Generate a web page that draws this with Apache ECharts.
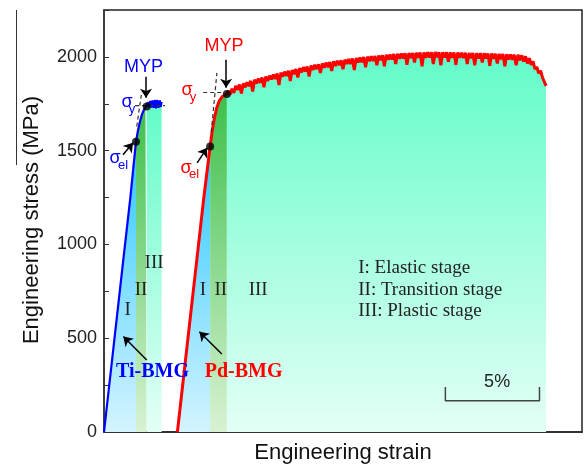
<!DOCTYPE html>
<html>
<head>
<meta charset="utf-8">
<script src="https://cdn.jsdelivr.net/npm/echarts@6/dist/echarts.min.js"></script>
<style>html,body{margin:0;padding:0;background:#fff}#chart{width:584px;height:467px}</style>
</head>
<body>
<div id="chart"></div>
<script>
// strain in %, stress in MPa
const tiCurve = [[0,0],[0.5,447],[1.0,895],[1.40,1250],[1.70,1548],[1.80,1605],[1.90,1650],[2.00,1688],[2.10,1714],[2.20,1728],[2.27,1735],
  [2.33,1758],[2.38,1732],[2.45,1765],[2.50,1730],[2.58,1768],[2.63,1728],[2.71,1770],[2.76,1726],[2.84,1770],[2.89,1728],[2.97,1768],[3.01,1732],[3.06,1760]];
const pdElastic = [[3.90,0],[4.60,623],[5.30,1246],[5.64,1522],[5.75,1605],[5.86,1670],[5.98,1725],[6.12,1765],[6.30,1790],[6.53,1802]];
const pdPlastic = [
  [6.6,1818],[6.7,1800],[6.8,1830],[6.9,1808],[7.0,1845],[7.1,1825],[7.2,1852],[7.3,1805],[7.4,1858],[7.5,1838],
  [7.6,1864],[7.7,1845],[7.8,1872],[7.9,1815],[8.0,1878],[8.1,1858],[8.2,1884],[8.3,1862],[8.4,1890],[8.5,1838],
  [8.6,1895],[8.7,1872],[8.8,1900],[8.9,1880],[9.0,1906],[9.1,1882],[9.2,1911],[9.3,1850],[9.4,1916],[9.5,1895],
  [9.6,1921],[9.7,1898],[9.8,1926],[9.9,1872],[10.0,1930],[10.1,1908],[10.2,1935],[10.3,1890],[10.4,1940],[10.5,1918],
  [10.6,1945],[10.7,1922],[10.8,1949],[10.9,1895],[11.0,1954],[11.1,1930],[11.2,1958],[11.3,1935],[11.4,1961],[11.5,1915],
  [11.6,1965],[11.7,1942],[11.8,1969],[11.9,1945],[12.0,1973],[12.1,1925],[12.2,1976],[12.3,1952],[12.4,1979],[12.5,1956],
  [12.6,1982],[12.7,1935],[12.8,1985],[12.9,1962],[13.0,1988],[13.1,1963],[13.2,1991],[13.3,1930],[13.4,1994],[13.5,1970],
  [13.6,1996],[13.7,1972],[13.8,1999],[13.9,1945],[14.0,2001],[14.1,1977],[14.2,2003],[14.3,1978],[14.4,2005],[14.5,1955],
  [14.6,2007],[14.7,1982],[14.8,2009],[14.9,1950],[15.0,2011],[15.1,1985],[15.2,2013],[15.3,1986],[15.4,2015],[15.5,1962],
  [15.6,2017],[15.7,1990],[15.8,2018],[15.9,1991],[16.0,2019],[16.1,1958],[16.2,2020],[16.3,1994],[16.4,2021],[16.5,1970],
  [16.6,2022],[16.7,1995],[16.8,2023],[16.9,1950],[17.0,2024],[17.1,1996],[17.2,2025],[17.3,1997],[17.4,2025],[17.5,1962],
  [17.6,2026],[17.7,1998],[17.8,2025],[17.9,1955],[18.0,2025],[18.1,1997],[18.2,2024],[18.3,1975],[18.4,2024],[18.5,1996],
  [18.6,2023],[18.7,1958],[18.8,2023],[18.9,1995],[19.0,2022],[19.1,1994],[19.2,2022],[19.3,1962],[19.4,2021],[19.5,1993],
  [19.6,2021],[19.7,1955],[19.8,2020],[19.9,1992],[20.0,2020],[20.1,1970],[20.2,2019],[20.3,1991],[20.4,2018],[20.5,1952],
  [20.6,2018],[20.7,1990],[20.8,2017],[20.9,1965],[21.0,2016],[21.1,1988],[21.2,2015],[21.3,1950],[21.4,2014],[21.5,1986],
  [21.6,2013],[21.7,1985],[21.8,2012],[21.9,1955],[22.0,2011],[22.1,1982],[22.2,2008],[22.3,1975],[22.4,2003],[22.5,1965],
  [22.6,1993],[22.7,1958],[22.8,1976],[22.9,1935],[23.0,1946],[23.1,1912],[23.2,1926],[23.3,1890],[23.4,1898],[23.49,1845]];
const pdCurve = pdElastic.concat(pdPlastic);

// stage boundaries (strain %): I | II | III
const tiStages = [0, 1.70, 2.27, 3.07];
const pdStages = [3.90, 5.64, 6.53, 23.49];
const stageColors = [['#2ec8ff', '#d4f4ff'], ['#3cbf4a', '#d8f2d2'], ['#62fcc9', '#e3fff6']];

// sigma_el and MYP points
const keyPoints = [[1.70,1548],[2.27,1735],[5.64,1522],[6.53,1802]];
const dashLines = [
  [[1.65,1740],[3.24,1740]], [[1.74,1629],[2.00,1809]],
  [[5.27,1810],[6.38,1810]], [[5.70,1600],[6.00,1915]]
];
const arrows = [
  [[2.234,1894],[2.234,1782]], [[6.49,1985],[6.49,1836]],
  [[1.01,1478],[1.54,1542]], [[4.95,1435],[5.48,1515]],
  [[2.27,384],[1.03,509]], [[6.26,416],[5.07,535]]
];
const scaleBar = [[18.14,240],[18.14,167],[23.14,167],[23.14,240]];

const chart = echarts.init(document.getElementById('chart'));

function grad(c) {
  return new echarts.graphic.LinearGradient(0, 0, 0, 1, [{offset: 0, color: c[0]}, {offset: 1, color: c[1]}]);
}
function stageSlice(curve, a, b) {
  return curve.filter(p => p[0] >= a - 1e-9 && p[0] <= b + 1e-9);
}

const series = [];
[[tiCurve, tiStages], [pdCurve, pdStages]].forEach(([curve, st]) => {
  for (let i = 0; i < 3; i++) {
    series.push({
      type: 'line', data: stageSlice(curve, st[i], st[i + 1]), showSymbol: false, silent: true, z: 1,
      lineStyle: {width: 0, opacity: 0}, areaStyle: {color: grad(stageColors[i]), opacity: 1}
    });
  }
});
series.push({type: 'line', data: tiCurve, showSymbol: false, z: 3, lineStyle: {color: '#0000ff', width: 2.2}});
series.push({type: 'line', data: pdCurve, showSymbol: false, z: 3, lineStyle: {color: '#ff0000', width: 3}});
dashLines.forEach(d => series.push({
  type: 'line', data: d, showSymbol: false, z: 4, lineStyle: {color: '#333', width: 1.2, type: [4, 3]}
}));
series.push({type: 'line', data: scaleBar, showSymbol: false, z: 4, lineStyle: {color: '#444', width: 1.5}});
series.push({
  type: 'scatter', data: keyPoints, symbolSize: 8, z: 6, itemStyle: {color: '#000'},
  markLine: {
    silent: true, symbol: ['none', 'arrow'], symbolSize: 9, animation: false,
    label: {show: false}, lineStyle: {color: '#000', width: 1.5, type: 'solid'},
    data: arrows.map(a => [{coord: a[0]}, {coord: a[1]}])
  }
});

chart.setOption({
  animation: false,
  grid: {left: 104, right: 2, top: 10, bottom: 35, show: true, borderColor: '#222', borderWidth: 1.5},
  xAxis: {
    type: 'value', min: 0, max: 25.4,
    axisLine: {lineStyle: {color: '#333', width: 2}},
    axisTick: {show: false}, axisLabel: {show: false}, splitLine: {show: false}
  },
  yAxis: {
    type: 'value', min: 0, max: 2250, interval: 250,
    axisLine: {show: true, lineStyle: {color: '#333', width: 1.5}},
    axisTick: {inside: true, length: 5, lineStyle: {color: '#333'}},
    axisLabel: {
      fontSize: 18, color: '#222', fontFamily: 'Liberation Sans', margin: 7,
      formatter: v => (v % 500 === 0 ? String(v) : '')
    },
    splitLine: {show: false}
  },
  series: series
});

function at(coord, text, style) {
  const p = chart.convertToPixel({gridIndex: 0}, coord);
  return {type: 'text', x: p[0], y: p[1], z: 10,
    style: Object.assign({text: text, align: 'center', verticalAlign: 'middle', fontFamily: 'Liberation Sans'}, style)};
}
const sans = {fontSize: 18};
const sub = {fontSize: 13};
const serif = {fontFamily: 'Liberation Serif', fontSize: 19, fill: '#222'};
const bmg = {fontFamily: 'Liberation Serif', fontSize: 20, fontWeight: 'bold'};

chart.setOption({
  graphic: [
    at([2.10, 1948], 'MYP', Object.assign({fill: '#0000ff'}, sans)),
    at([6.38, 2060], 'MYP', Object.assign({fill: '#ff0000'}, sans)),
    at([1.22, 1761], 'σ', Object.assign({fill: '#0000ff'}, sans)),
    at([1.49, 1718], 'y', Object.assign({fill: '#0000ff'}, sub)),
    at([0.585, 1462], 'σ', Object.assign({fill: '#0000ff'}, sans)),
    at([1.01, 1419], 'el', Object.assign({fill: '#0000ff'}, sub)),
    at([4.41, 1825], 'σ', Object.assign({fill: '#ff0000'}, sans)),
    at([4.73, 1782], 'y', Object.assign({fill: '#ff0000'}, sub)),
    at([4.36, 1409], 'σ', Object.assign({fill: '#ff0000'}, sans)),
    at([4.79, 1371], 'el', Object.assign({fill: '#ff0000'}, sub)),
    at([1.26, 651], 'I', serif),
    at([1.97, 758], 'II', serif),
    at([2.66, 902], 'III', serif),
    at([5.25, 758], 'I', serif),
    at([6.21, 758], 'II', serif),
    at([8.19, 758], 'III', serif),
    at([13.51, 875], 'I: Elastic stage', Object.assign({align: 'left'}, serif)),
    at([13.51, 758], 'II: Transition stage', Object.assign({align: 'left'}, serif)),
    at([13.51, 646], 'III: Plastic stage', Object.assign({align: 'left'}, serif)),
    at([2.58, 320], 'Ti-BMG', Object.assign({fill: '#0000ff'}, bmg)),
    at([7.42, 320], 'Pd-BMG', Object.assign({fill: '#ff0000'}, bmg)),
    at([20.89, 268], '5%', {fontSize: 18, fill: '#222'}),
    {type: 'text', x: 343, y: 453, style: {text: 'Engineering strain', align: 'center', verticalAlign: 'middle',
      fontFamily: 'Liberation Sans', fontSize: 22, fill: '#111'}},
    {type: 'text', x: 32, y: 220, rotation: Math.PI / 2, style: {text: 'Engineering stress (MPa)', align: 'center',
      verticalAlign: 'middle', fontFamily: 'Liberation Sans', fontSize: 22, fill: '#111'}},
    {type: 'line', shape: {x1: 16.5, y1: 10, x2: 16.5, y2: 165}, style: {stroke: '#333', lineWidth: 1}}
  ]
});
</script>
</body>
</html>
